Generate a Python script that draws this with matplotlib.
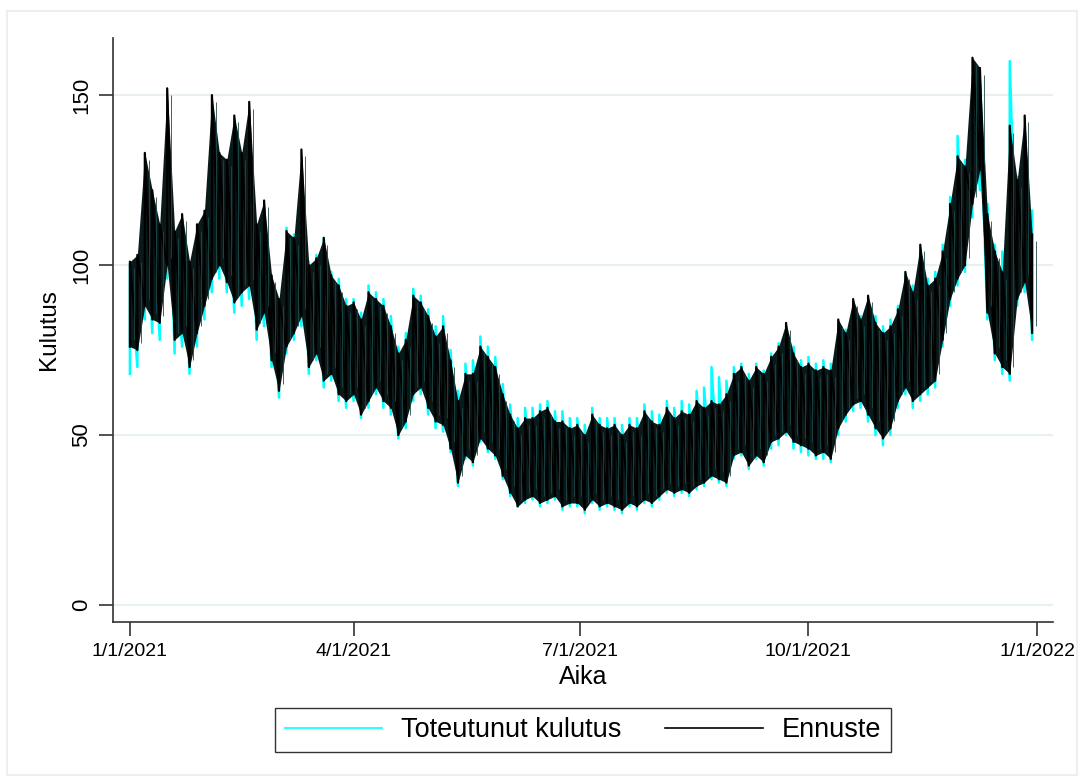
import matplotlib
matplotlib.use("Agg")
import matplotlib.pyplot as plt
import matplotlib.dates as mdates
from matplotlib.patches import Rectangle
from matplotlib.lines import Line2D
import numpy as np
import pandas as pd

plt.rcParams['font.family'] = ['Liberation Sans', 'DejaVu Sans']

# one sample every 3 days, daily high / low of the hourly series
dates = pd.date_range('2021-01-01', periods=122, freq='3D')

ennuste_hi = [101, 103, 133, 122, 112, 152, 110, 115, 101, 112, 116, 150, 133, 131,
              144, 133, 148, 112, 119, 97, 90, 110, 108, 134, 100, 102, 108, 97,
              94, 88, 89, 84, 92, 90, 88, 82, 74, 78, 91, 89, 85, 79, 82, 72,
              60, 68, 68, 76, 73, 70, 62, 56, 52, 55, 55, 57, 58, 54, 54, 52,
              53, 50, 56, 53, 52, 53, 50, 53, 52, 57, 54, 53, 58, 55, 57, 56,
              60, 58, 60, 59, 62, 68, 70, 66, 70, 68, 73, 76, 83, 74, 70, 71,
              69, 70, 69, 84, 80, 90, 84, 91, 83, 80, 82, 87, 98, 92, 106, 94,
              96, 104, 118, 132, 129, 161, 158, 115, 104, 98, 141, 125, 144, 109]
ennuste_lo = [76, 75, 88, 84, 83, 100, 78, 80, 70, 80, 88, 96, 100, 95,
              89, 92, 94, 81, 86, 72, 63, 76, 80, 85, 70, 74, 66, 68,
              62, 60, 62, 56, 60, 64, 60, 58, 50, 54, 62, 64, 58, 54, 53, 46,
              36, 44, 42, 49, 46, 44, 38, 33, 29, 31, 32, 30, 31, 32, 29, 30,
              30, 28, 31, 29, 30, 29, 28, 30, 29, 31, 30, 32, 34, 33, 34, 33,
              35, 36, 38, 37, 36, 44, 45, 41, 44, 42, 48, 49, 51, 48, 47, 46,
              44, 45, 43, 52, 56, 59, 60, 56, 52, 49, 52, 60, 64, 60, 62, 64,
              66, 78, 90, 96, 100, 118, 128, 86, 74, 70, 68, 90, 95, 80]

toteutunut_hi = [100, 101, 128, 118, 108, 140, 108, 112, 100, 110, 114, 140, 130, 128,
                 136, 130, 140, 110, 116, 96, 90, 111, 109, 128, 101, 103, 108, 98,
                 96, 90, 90, 86, 94, 92, 90, 85, 76, 80, 93, 91, 87, 82, 85, 75,
                 63, 71, 72, 79, 76, 73, 65, 59, 55, 58, 58, 59, 60, 57, 57, 55,
                 55, 53, 58, 55, 55, 55, 53, 55, 55, 59, 57, 56, 60, 58, 60, 59,
                 63, 64, 70, 67, 66, 70, 71, 68, 71, 69, 74, 77, 81, 76, 72, 73,
                 71, 72, 71, 83, 81, 88, 85, 89, 85, 82, 84, 88, 97, 94, 104, 96,
                 98, 106, 120, 138, 131, 150, 148, 118, 106, 104, 160, 126, 138, 116]
toteutunut_lo = [68, 70, 84, 80, 78, 96, 74, 76, 68, 76, 84, 92, 96, 92,
                 86, 88, 90, 78, 82, 70, 61, 74, 78, 82, 68, 72, 64, 66,
                 60, 58, 60, 55, 58, 62, 58, 56, 49, 52, 60, 62, 56, 52, 51, 45,
                 35, 43, 41, 48, 45, 43, 37, 32, 29, 30, 31, 29, 30, 31, 28, 29,
                 29, 27, 30, 28, 29, 28, 27, 29, 28, 30, 29, 31, 33, 32, 33, 32,
                 34, 35, 37, 36, 35, 43, 44, 40, 43, 41, 46, 47, 50, 46, 45, 44,
                 43, 43, 42, 50, 54, 57, 58, 54, 50, 47, 50, 58, 62, 58, 60, 62,
                 64, 76, 88, 94, 98, 114, 122, 84, 72, 68, 66, 88, 92, 78]

x_ticks = ['2021-01-01', '2021-04-01', '2021-07-01', '2021-10-01', '2022-01-01']
x_labels = ['1/1/2021', '4/1/2021', '7/1/2021', '10/1/2021', '1/1/2022']
y_ticks = [0, 50, 100, 150]

CYAN = '#00FFFF'
GRID = '#E8F0F2'


def zigzag(d, lo, hi):
    xs = np.repeat(mdates.date2num(d), 2)
    ys = np.empty(2 * len(lo))
    ys[0::2] = lo
    ys[1::2] = hi
    return xs, ys


fig = plt.figure(figsize=(10.79, 7.83), dpi=100)
fig.patches.append(Rectangle((7 / 1079, 8 / 783), 1070 / 1079, 764 / 783,
                             transform=fig.transFigure, fill=False,
                             edgecolor=GRID, lw=1.5))
ax = fig.add_axes([113 / 1079, 161 / 783, 940 / 1079, 584 / 783])

for y in y_ticks:
    ax.axhline(y, color=GRID, lw=1.6, zorder=0)

dn = mdates.date2num(dates)
xs, ys = zigzag(dates, toteutunut_lo, toteutunut_hi)
ax.plot(xs, ys, color=CYAN, lw=1.8, zorder=2)

ax.fill_between(dn, ennuste_lo, ennuste_hi, color='#0a1a1a', lw=0, zorder=3)
xs, ys = zigzag(dates, ennuste_lo, ennuste_hi)
ax.plot(xs, ys, color='black', lw=1.6, zorder=4)
ax.vlines(dn + 1.5, np.array(ennuste_lo) + 2, np.array(ennuste_hi) - 2,
          color='#1f4a4a', lw=0.6, zorder=5)

t0 = mdates.date2num(pd.Timestamp('2021-01-01'))
t1 = mdates.date2num(pd.Timestamp('2022-01-01'))
ax.set_xlim(t0 - 6.8, t1 + 6.4)
ax.set_ylim(-5, 166.8)

ax.set_xticks([mdates.date2num(pd.Timestamp(t)) for t in x_ticks])
ax.set_xticklabels(x_labels, fontsize=14)
ax.set_yticks(y_ticks)
ax.set_yticklabels([str(v) for v in y_ticks], fontsize=16, rotation=90, va='center')
ax.tick_params(axis='both', length=10, width=1.2, color='#333333', pad=5)

for s in ['top', 'right']:
    ax.spines[s].set_visible(False)
for s in ['left', 'bottom']:
    ax.spines[s].set_linewidth(1.2)
    ax.spines[s].set_color('#333333')

ax.set_xlabel('Aika', fontsize=18, labelpad=4)
ax.set_ylabel('Kulutus', fontsize=17.5, labelpad=8)

handles = [Line2D([], [], color=CYAN, lw=1.2), Line2D([], [], color='black', lw=1.2)]
leg = fig.legend(handles, ['Toteutunut kulutus', 'Ennuste'], loc='center',
                 bbox_to_anchor=(583 / 1079, 1 - 730 / 783), ncol=2, fontsize=19.5,
                 frameon=True, fancybox=False, handlelength=3.6, columnspacing=1.6,
                 handletextpad=0.7, borderpad=0.35)
leg.get_frame().set_edgecolor('black')
leg.get_frame().set_linewidth(1.0)

fig.savefig('out.png', dpi=100, facecolor='white')
